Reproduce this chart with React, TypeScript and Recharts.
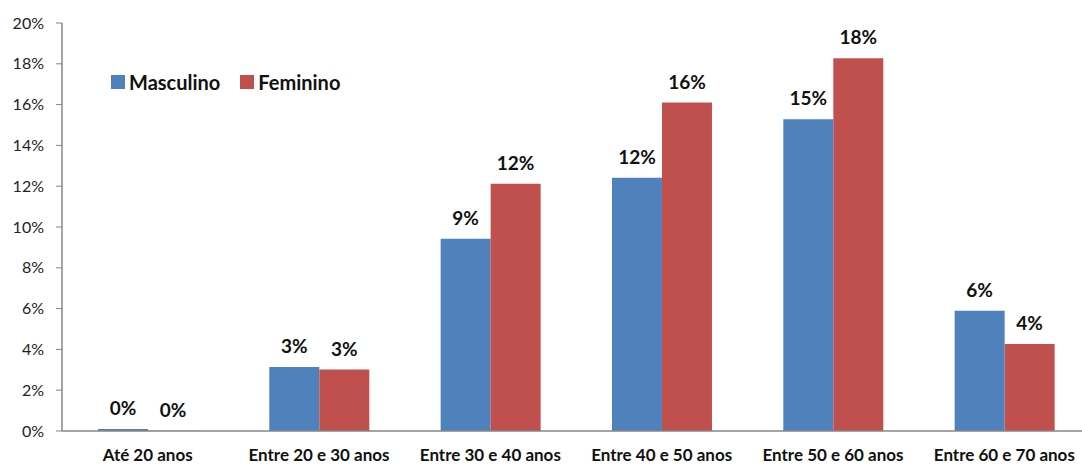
import React from 'react';
import { BarChart, Bar, XAxis, YAxis, Legend, LabelList } from 'recharts';

const faixas = [
  'Até 20 anos',
  'Entre 20 e 30 anos',
  'Entre 30 e 40 anos',
  'Entre 40 e 50 anos',
  'Entre 50 e 60 anos',
  'Entre 60 e 70 anos',
];
// shares in percent; the youngest group is close to zero for both
const masculino = [0.1, 3.14, 9.42, 12.42, 15.28, 5.9];
const feminino = [0.01, 3.01, 12.12, 16.1, 18.27, 4.26];
const yTicks = [0, 2, 4, 6, 8, 10, 12, 14, 16, 18, 20];
const edgeTicks = [0, 1, 2, 3, 4, 5, 6];
const seriesOrder = ['Masculino', 'Feminino'];

const data = faixas.map((faixa, i) => ({
  faixa,
  masculino: masculino[i],
  feminino: feminino[i],
}));

const FONT = 'Lato, "Noto Sans", sans-serif';
const AXIS = '#868686';

// value label drawn above each bar, rounded to whole percent
const ValueLabel = (props: any) => {
  const { x, y, width, value } = props;
  if (value == null) return null;
  return (
    <text
      x={Number(x) + Number(width) / 2}
      y={Number(y) - 14}
      textAnchor="middle"
      fontFamily={FONT}
      fontWeight={700}
      fontSize={19}
      fill="#111"
    >
      {`${Math.round(Number(value))}%`}
    </text>
  );
};

const LegendBox = (props: any) => {
  const items = [...(props.payload || [])].sort(
    (a: any, b: any) => seriesOrder.indexOf(a.value) - seriesOrder.indexOf(b.value)
  );
  return (
    <div style={{ display: 'flex', fontFamily: FONT, fontWeight: 700, fontSize: 20, color: '#111', lineHeight: '20px' }}>
      {items.map((p: any) => (
        <div key={p.value} style={{ display: 'flex', alignItems: 'center', marginRight: 20 }}>
          <span style={{ width: 14, height: 14, background: p.color, marginRight: 4, display: 'inline-block' }} />
          <span>{p.value}</span>
        </div>
      ))}
    </div>
  );
};

export default function App() {
  return (
    <div style={{ position: 'fixed', left: 0, top: 0, width: 1082, height: 464, overflow: 'hidden', background: '#fff' }}>
      <BarChart
        width={1100}
        height={464}
        data={data}
        margin={{ top: 23, right: 10, bottom: 0, left: 0 }}
        barCategoryGap="21%"
        barGap={0}
      >
        <XAxis
          xAxisId="edges"
          type="number"
          domain={[0, 6]}
          ticks={edgeTicks}
          allowDataOverflow
          height={0}
          axisLine={false}
          tick={false}
          tickSize={5}
          stroke={AXIS}
        />
        <XAxis
          dataKey="faixa"
          height={33}
          axisLine={{ stroke: AXIS, strokeWidth: 1.5 }}
          tickLine={false}
          interval={0}
          tick={{ fontFamily: FONT, fontWeight: 700, fontSize: 17, fill: '#111' }}
          tickMargin={12}
        />
        <YAxis
          domain={[0, 20]}
          ticks={yTicks}
          width={62}
          tickFormatter={(v) => `${v}%`}
          axisLine={{ stroke: AXIS, strokeWidth: 1.5 }}
          tickLine={{ stroke: AXIS }}
          tickSize={6}
          tickMargin={12}
          tick={{ fontFamily: FONT, fontSize: 16, fill: '#222' }}
        />
        <Legend
          layout="horizontal"
          verticalAlign="middle"
          align="center"
          content={LegendBox}
          wrapperStyle={{ left: 111, top: 72, width: 'auto' }}
        />
        <Bar dataKey="masculino" name="Masculino" fill="#4F81BD" isAnimationActive={false}>
          <LabelList dataKey="masculino" content={ValueLabel} />
        </Bar>
        <Bar dataKey="feminino" name="Feminino" fill="#C0504D" isAnimationActive={false}>
          <LabelList dataKey="feminino" content={ValueLabel} />
        </Bar>
      </BarChart>
    </div>
  );
}
